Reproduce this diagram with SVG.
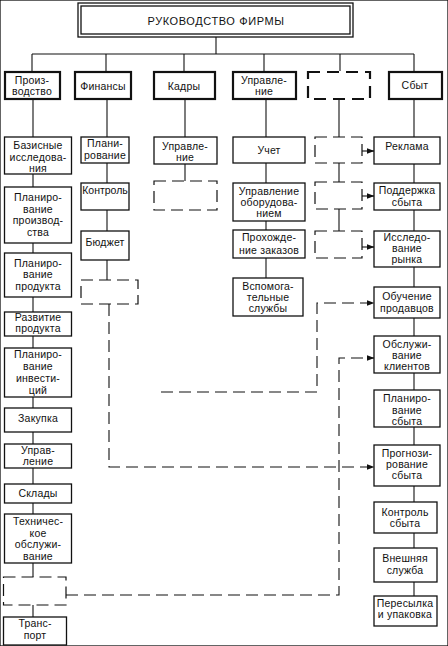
<svg xmlns="http://www.w3.org/2000/svg" width="448" height="646" viewBox="0 0 448 646">
<defs>
<marker id="ah" markerWidth="8" markerHeight="6" refX="7.5" refY="3" orient="auto" markerUnits="userSpaceOnUse"><path d="M0,0 L8,3 L0,6 Z" fill="#111"/></marker>
<style>
rect{fill:#fff;stroke:#111;stroke-width:1.3}
.h{stroke-width:2.2}
.d{stroke-dasharray:12,6;stroke-width:1.2}
.dh{stroke-dasharray:12,7;stroke-width:2.2}
line,path.c{stroke:#111;stroke-width:1.1;fill:none}
.dl{stroke-dasharray:12,6}
text{font-family:"Liberation Sans",Arial,sans-serif;font-size:10.5px;fill:#111;text-anchor:middle;letter-spacing:0.2px}
.t{font-size:11px;letter-spacing:0.6px}
.n{letter-spacing:0}
</style>
</defs>
<rect width="448" height="646" fill="#fff" stroke="none"/>
<g id="connectors">
<line x1="216" y1="37" x2="216" y2="54"/>
<line x1="32" y1="54" x2="414" y2="54"/>
<line x1="32" y1="54" x2="32" y2="71"/>
<line x1="106" y1="54" x2="106" y2="71"/>
<line x1="184" y1="54" x2="184" y2="71"/>
<line x1="264" y1="54" x2="264" y2="71"/>
<line x1="340" y1="54" x2="340" y2="71"/>
<line x1="414" y1="54" x2="414" y2="71"/>
<line x1="33" y1="99" x2="33" y2="617"/>
<line x1="107" y1="99" x2="107" y2="280"/>
<line x1="185" y1="99" x2="185" y2="181"/>
<line x1="266" y1="99" x2="266" y2="278"/>
<line x1="339" y1="99" x2="339" y2="231"/>
<line x1="414" y1="99" x2="414" y2="596"/>
<line x1="359" y1="151" x2="374" y2="151" marker-end="url(#ah)"/>
<line x1="359" y1="196" x2="374" y2="196" marker-end="url(#ah)"/>
<line x1="359" y1="247" x2="374" y2="247" marker-end="url(#ah)"/>
<path class="c dl" d="M161,392 H317 V303 H374" marker-end="url(#ah)"/>
<path class="c dl" d="M66,595 H339 V358 H374" marker-end="url(#ah)"/>
<path class="c dl" d="M109,304 V467 H374" marker-end="url(#ah)"/>
</g>
<g id="top">
<rect x="78" y="3" width="275" height="34" stroke-width="1"/>
<rect x="81" y="6" width="269" height="28" stroke-width="1"/>
<text class="t" x="216" y="25">РУКОВОДСТВО ФИРМЫ</text>
</g>
<g id="proizvodstvo"><rect class="h" x="5" y="72" width="55" height="27"/><text x="32" y="84">Произ-</text><text x="32" y="95">водство</text></g>
<g id="finansy"><rect class="h" x="75" y="72" width="56" height="27"/><text x="103" y="90">Финансы</text></g>
<g id="kadry"><rect class="h" x="154" y="72" width="61" height="27"/><text x="184" y="90">Кадры</text></g>
<g id="upravlenie"><rect class="h" x="233" y="72" width="63" height="27"/><text x="264" y="84">Управле-</text><text x="264" y="95">ние</text></g>
<g id="empty1"><rect class="dh" x="308" y="72" width="62" height="27"/></g>
<g id="sbyt"><rect class="h" x="389" y="72" width="53" height="27"/><text x="415" y="89">Сбыт</text></g>

<g id="p1"><rect x="4.5" y="137" width="67" height="37"/><text x="38" y="149">Базисные</text><text x="38" y="161">исследова-</text><text x="38" y="172">ния</text></g>
<g id="p2"><rect x="4.5" y="187" width="67" height="56"/><text x="38" y="201">Планиро-</text><text x="38" y="213">вание</text><text x="38" y="224">производ-</text><text x="38" y="236">ства</text></g>
<g id="p3"><rect x="4.5" y="253" width="67" height="44"/><text x="38" y="267">Планиро-</text><text x="38" y="278">вание</text><text x="38" y="290">продукта</text></g>
<g id="p4"><rect x="4.5" y="312" width="67" height="24"/><text x="38" y="321">Развитие</text><text x="38" y="332">продукта</text></g>
<g id="p5"><rect x="4.5" y="348" width="67" height="49"/><text x="38" y="358">Планиро-</text><text x="38" y="370">вание</text><text x="38" y="382">инвести-</text><text x="38" y="394">ций</text></g>
<g id="p6"><rect x="4.5" y="408" width="67" height="24"/><text x="38" y="422">Закупка</text></g>
<g id="p7"><rect x="4.5" y="444" width="67" height="24"/><text x="38" y="454">Управ-</text><text x="38" y="465">ление</text></g>
<g id="p8"><rect x="4.5" y="484" width="67" height="19"/><text x="38" y="497">Склады</text></g>
<g id="p9"><rect x="4.5" y="514" width="67" height="49"/><text x="38" y="525">Техничес-</text><text x="38" y="537">кое</text><text x="38" y="548">обслужи-</text><text x="38" y="560">вание</text></g>
<g id="p10"><rect class="d" x="3.5" y="577" width="62.5" height="28"/></g>
<g id="p11"><rect x="3.5" y="617" width="63" height="28"/><text x="35" y="627">Транс-</text><text x="35" y="639">порт</text></g>

<g id="f1"><rect x="81" y="137" width="48" height="26"/><text x="105" y="147">Плани-</text><text x="105" y="159">рование</text></g>
<g id="f2"><rect x="81" y="183" width="48" height="27"/><text class="n" x="105" y="194">Контроль</text></g>
<g id="f3"><rect x="81" y="231" width="48" height="29"/><text x="105" y="246">Бюджет</text></g>
<g id="f4"><rect class="d" x="81" y="280" width="57" height="24"/></g>

<g id="k1"><rect x="154" y="137" width="63" height="27"/><text x="185" y="150">Управле-</text><text x="185" y="161">ние</text></g>
<g id="k2"><rect class="d" x="154" y="181" width="63" height="29"/></g>

<g id="u1"><rect x="233" y="137" width="72" height="26"/><text x="269" y="154">Учет</text></g>
<g id="u2"><rect x="233" y="183" width="72" height="38"/><text x="269" y="195">Управление</text><text x="269" y="206">оборудова-</text><text x="269" y="217">нием</text></g>
<g id="u3"><rect x="233" y="230" width="72" height="28"/><text x="269" y="241">Прохожде-</text><text x="269" y="254">ние заказов</text></g>
<g id="u4"><rect x="233" y="278" width="70" height="38"/><text x="268" y="290">Вспомога-</text><text x="268" y="301">тельные</text><text x="268" y="312">службы</text></g>

<g id="e1"><rect class="d" x="315" y="137" width="47" height="26"/></g>
<g id="e2"><rect class="d" x="315" y="182" width="47" height="27"/></g>
<g id="e3"><rect class="d" x="315" y="231" width="47" height="27"/></g>

<g id="s1"><rect x="374" y="137" width="66" height="27"/><text x="407" y="150">Реклама</text></g>
<g id="s2"><rect x="374" y="183" width="66" height="27"/><text x="407" y="194">Поддержка</text><text x="407" y="206">сбыта</text></g>
<g id="s3"><rect x="374" y="231" width="66" height="36"/><text x="407" y="241">Исследо-</text><text x="407" y="252">вание</text><text x="407" y="263">рынка</text></g>
<g id="s4"><rect x="374" y="287" width="66" height="31"/><text x="407" y="300">Обучение</text><text x="407" y="312">продавцов</text></g>
<g id="s5"><rect x="374" y="336" width="66" height="37"/><text x="407" y="348">Обслужи-</text><text x="407" y="359">вание</text><text x="407" y="370">клиентов</text></g>
<g id="s6"><rect x="374" y="390" width="66" height="37"/><text x="407" y="402">Планиро-</text><text x="407" y="414">вание</text><text x="407" y="425">сбыта</text></g>
<g id="s7"><rect x="374" y="445" width="66" height="41"/><text x="407" y="457">Прогнози-</text><text x="407" y="468">рование</text><text x="407" y="479">сбыта</text></g>
<g id="s8"><rect x="374" y="502" width="63" height="31"/><text x="405" y="516">Контроль</text><text x="405" y="527">сбыта</text></g>
<g id="s9"><rect x="374" y="548" width="63" height="34"/><text x="405" y="562">Внешняя</text><text x="405" y="574">служба</text></g>
<g id="s10"><rect x="374" y="596" width="63" height="30"/><text x="405" y="607">Пересылка</text><text x="405" y="618">и упаковка</text></g>
</svg>
